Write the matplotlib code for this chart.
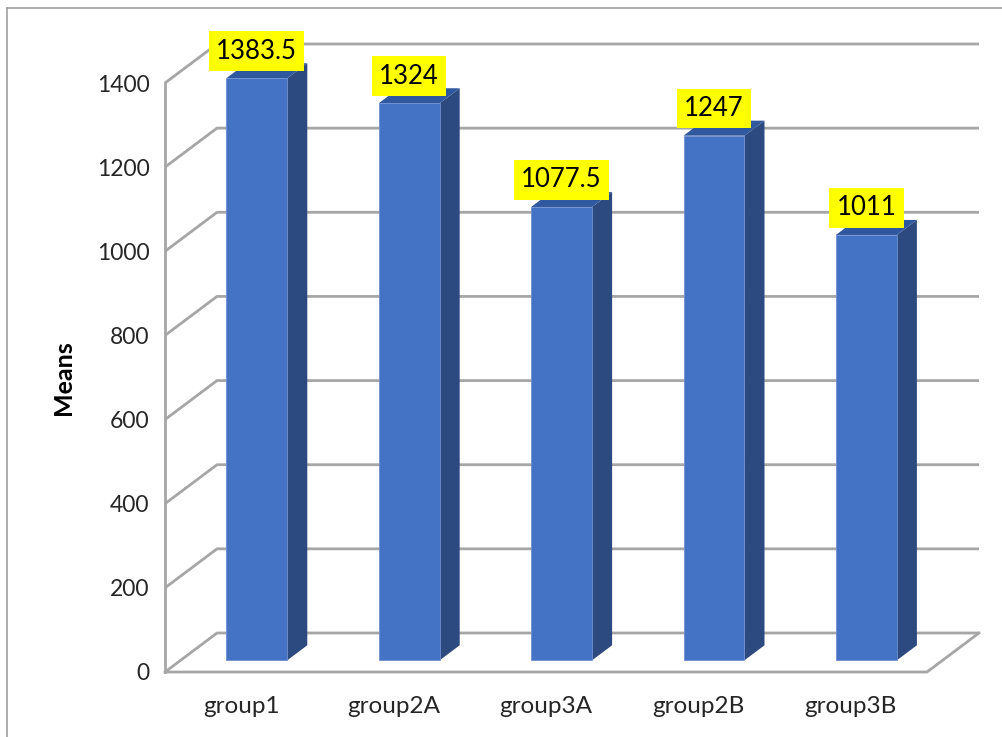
import matplotlib
matplotlib.use("Agg")
import matplotlib.pyplot as plt
from matplotlib.patches import Polygon
from matplotlib.lines import Line2D

# data
groups = ["group1", "group2A", "group3A", "group2B", "group3B"]
means = [1383.5, 1324, 1077.5, 1247, 1011]
yticks = [0, 200, 400, 600, 800, 1000, 1200, 1400]
value_labels = ["1383.5", "1324", "1077.5", "1247", "1011"]

plt.rcParams['font.family'] = ['Lato', 'DejaVu Sans']

W, H = 1002, 737
fig = plt.figure(figsize=(W / 100, H / 100), dpi=100)
fig.patch.set_facecolor('white')

# chart area border (top and left only visible)
fig.add_artist(Line2D([7 / W, 1.0], [1 - 8 / H, 1 - 8 / H], color='#a0a0a0', lw=1.2))
fig.add_artist(Line2D([7 / W, 7 / W], [0, 1 - 8 / H], color='#a0a0a0', lw=1.2))

# front plane of the plot area in pixels
left_px, right_px, floor_px, top_px = 165, 927, 672, 83
ax = fig.add_axes([left_px / W, 1 - floor_px / H,
                   (right_px - left_px) / W, (floor_px - top_px) / H])
ax.set_xlim(-0.5, len(groups) - 0.5)
ax.set_ylim(0, 1400)
for s in ax.spines.values():
    s.set_visible(False)

# depth offset of the 3D box in data units
ddx = 52 / 152.4
ddy = 39 * 1400 / 589
grid_c = '#a6a6a6'
x0, x1 = -0.5, len(groups) - 0.5

# walls: gridlines on the back, diagonals on the left wall
for v in yticks:
    ax.plot([x0, x0 + ddx, x1 + ddx], [v, v + ddy, v + ddy],
            color=grid_c, lw=2, clip_on=False, zorder=1, solid_capstyle='butt')
ax.plot([x0, x0], [0, yticks[-1]], color=grid_c, lw=2, clip_on=False, zorder=1)
# floor
ax.plot([x0, x1, x1 + ddx], [0, 0, ddy], color=grid_c, lw=2, clip_on=False, zorder=1)

# bars
d0, d1 = 0.3, 0.685
hw = 0.2
front_c, side_c, top_c = '#4472c4', '#2c4a80', '#30589f'
for i, v in enumerate(means):
    fx, fy = i + d0 * ddx, d0 * ddy
    bx, by = i + d1 * ddx, d1 * ddy
    side = Polygon([(fx + hw, fy), (bx + hw, by), (bx + hw, v + by), (fx + hw, v + fy)],
                   closed=True, facecolor=side_c, edgecolor='none', clip_on=False, zorder=3)
    top = Polygon([(fx - hw, v + fy), (fx + hw, v + fy), (bx + hw, v + by), (bx - hw, v + by)],
                  closed=True, facecolor=top_c, edgecolor='none', clip_on=False, zorder=3)
    ax.add_patch(side)
    ax.add_patch(top)
    ax.bar(fx, v, width=2 * hw, bottom=fy, color=front_c, edgecolor='#6f8fd0',
           linewidth=0.6, zorder=4, clip_on=False)
    ax.annotate(value_labels[i], (fx, v + fy), xytext=(0, 19.5), textcoords='offset points',
                ha='center', va='center', fontsize=18.5, color='black', zorder=6,
                annotation_clip=False,
                bbox=dict(boxstyle='square,pad=0.28', facecolor='#ffff00', edgecolor='none'))

ax.set_yticks(yticks)
ax.set_yticklabels([str(t) for t in yticks], fontsize=16.5, color='#262626')
ax.set_xticks(range(len(groups)))
ax.set_xticklabels(groups, fontsize=17.5, color='#262626')
ax.tick_params(axis='y', length=0, pad=11)
ax.tick_params(axis='x', length=0, pad=17)
ax.set_ylabel('Means', fontsize=18, fontweight='bold', labelpad=16)
ax.set_facecolor('none')

fig.savefig('out.png', dpi=100, facecolor='white')
